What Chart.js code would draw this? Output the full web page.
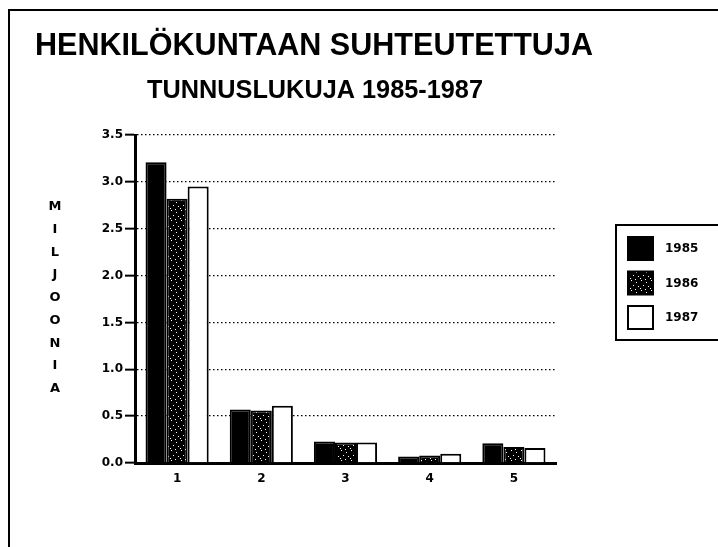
<!DOCTYPE html>
<html>
<head>
<meta charset="utf-8">
<script src="https://cdn.jsdelivr.net/npm/chart.js@4/dist/chart.umd.min.js"></script>
<style>
    html, body { margin: 0; padding: 0; background: #ffffff; }
    canvas { display: block; }
</style>
</head>
<body>
<canvas id="chart" width="718" height="547"></canvas>
<script>
const categories = ['1', '2', '3', '4', '5']
const seriesNames = ['1985', '1986', '1987']
const values1985 = [3.21, 0.57, 0.23, 0.07, 0.21]
const values1986 = [2.82, 0.56, 0.22, 0.08, 0.17]
const values1987 = [2.95, 0.61, 0.22, 0.10, 0.16]
const yTicks = [0, 0.5, 1, 1.5, 2, 2.5, 3, 3.5]

const titleText = 'HENKILÖKUNTAAN SUHTEUTETTUJA'
const subtitleText = 'TUNNUSLUKUJA 1985-1987'
const yAxisTitle = 'MILJOONIA'

const tickFont = {family: '"DejaVu Sans", sans-serif', size: 12, weight: 'bold'}

// stippled fill for the middle year, like the scanned dot screen
function stipple() {
    const c = document.createElement('canvas')
    c.width = 10
    c.height = 10
    const g = c.getContext('2d')
    g.fillStyle = '#000'
    g.fillRect(0, 0, 10, 10)
    g.fillStyle = '#fff'
    const dots = [[1, 0], [6, 2], [3, 5], [8, 6], [0, 8], [5, 9]]
    dots.forEach(([x, y]) => g.fillRect(x, y, 1, 1))
    return g.createPattern(c, 'repeat')
}

const fills = ['#000000', stipple(), '#ffffff']
const seriesValues = [values1985, values1986, values1987]

function fitText(ctx, text, x, baseline, width, font) {
    ctx.font = font
    const w = ctx.measureText(text).width
    ctx.save()
    ctx.translate(x, baseline)
    ctx.scale(width / w, 1)
    ctx.fillText(text, 0, 0)
    ctx.restore()
}

const decorations = {
    id: 'decorations',
    afterDraw(chart) {
        const ctx = chart.ctx
        ctx.save()
        ctx.fillStyle = '#000'
        ctx.strokeStyle = '#000'

        // page frame (left and top edges are all that show)
        ctx.lineWidth = 2
        ctx.beginPath()
        ctx.moveTo(9, 560)
        ctx.lineTo(9, 10)
        ctx.lineTo(730, 10)
        ctx.stroke()

        ctx.textAlign = 'left'
        ctx.textBaseline = 'alphabetic'
        fitText(ctx, titleText, 35, 55, 558, 'bold 31px "Liberation Sans", Arial, sans-serif')
        fitText(ctx, subtitleText, 147, 98, 336, 'bold 25px "Liberation Sans", Arial, sans-serif')

        // stacked axis title
        ctx.font = 'bold 13px "DejaVu Sans", sans-serif'
        ctx.textAlign = 'center'
        ctx.textBaseline = 'middle'
        Array.from(yAxisTitle).forEach((ch, i) => {
            ctx.fillText(ch, 55, 207 + i * 22.7)
        })

        // legend box
        ctx.lineWidth = 2
        ctx.strokeRect(616, 225, 120, 115)
        ctx.textAlign = 'left'
        ctx.font = 'bold 12px "DejaVu Sans", sans-serif'
        chart.data.datasets.forEach((ds, i) => {
            const y = 237 + i * 34.5
            ctx.fillStyle = ds.backgroundColor
            ctx.fillRect(628, y, 25, 23)
            ctx.strokeRect(628, y, 25, 23)
            ctx.fillStyle = '#000'
            ctx.fillText(ds.label, 665, y + 12)
        })
        ctx.restore()
    }
}

const data = {
    labels: categories,
    datasets: seriesNames.map((name, i) => ({
        label: name,
        data: seriesValues[i],
        backgroundColor: fills[i],
        borderColor: '#000000',
        borderWidth: 2,
        categoryPercentage: 0.75,
        barPercentage: 1.0,
    }))
}

const config = {
    type: 'bar',
    data: data,
    options: {
        responsive: false,
        animation: false,
        devicePixelRatio: 1,
        layout: {
            padding: {left: 0, right: 162, top: 135, bottom: 54}
        },
        plugins: {
            legend: {display: false},
            title: {display: false},
            tooltip: {enabled: false},
        },
        scales: {
            x: {
                grid: {display: false, drawTicks: false},
                border: {display: true, color: '#000', width: 3},
                ticks: {color: '#000', font: tickFont, padding: 9},
                afterFit: (scale) => { scale.height = 30 },
            },
            y: {
                min: 0,
                max: 3.5,
                afterBuildTicks: (scale) => {
                    scale.ticks = yTicks.map((v) => ({value: v}))
                },
                grid: {
                    color: '#000',
                    lineWidth: 1.3,
                    drawTicks: true,
                    tickLength: 10,
                    tickColor: '#000',
                    tickWidth: 2,
                    tickBorderDash: [],
                },
                border: {display: true, color: '#000', width: 3, dash: [1.5, 2.5]},
                ticks: {
                    color: '#000',
                    font: tickFont,
                    padding: 2,
                    callback: (v) => Number(v).toFixed(1),
                },
                afterFit: (scale) => { scale.width = 135 },
            }
        }
    },
    plugins: [decorations],
}

new Chart(document.getElementById('chart'), config)
</script>
</body>
</html>
